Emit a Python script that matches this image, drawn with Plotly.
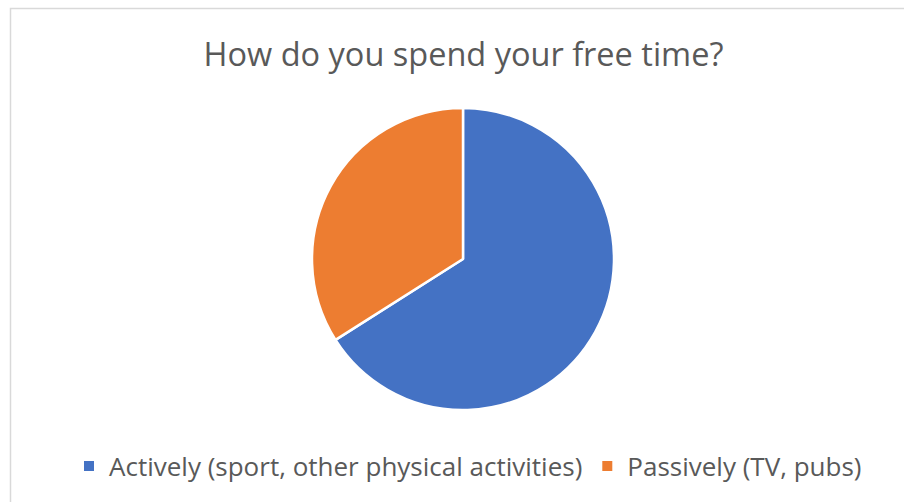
import plotly.graph_objects as go

# Survey answers for "How do you spend your free time?"
categories = ["Actively (sport, other physical activities)", "Passively (TV, pubs)"]
shares = [66, 34]
colors = ["#4472C4", "#ED7D31"]

W, H = 904, 502
TEXT = "#595959"
FONT = "Open Sans"

fig = go.Figure(
    go.Pie(
        labels=categories,
        values=shares,
        sort=False,
        direction="clockwise",
        rotation=0,
        textinfo="none",
        hoverinfo="skip",
        marker=dict(colors=colors, line=dict(color="white", width=2.5)),
        domain=dict(x=[312 / W, 614 / W], y=[1 - 410 / H, 1 - 108 / H]),
    )
)

fig.update_layout(
    width=W,
    height=H,
    margin=dict(l=0, r=0, t=0, b=0),
    paper_bgcolor="white",
    plot_bgcolor="white",
    font=dict(family=FONT, color=TEXT),
    title=dict(
        text="How do you spend your free time?",
        x=463.5 / W,
        xanchor="center",
        y=1 - 55 / H,
        yanchor="middle",
        font=dict(size=32.5, color=TEXT, family=FONT),
    ),
    legend=dict(
        orientation="h",
        x=468 / W,
        xanchor="center",
        y=1 - 466 / H,
        yanchor="middle",
        font=dict(size=26, color=TEXT, family=FONT),
        itemsizing="constant",
        bgcolor="rgba(0,0,0,0)",
    ),
    shapes=[
        dict(
            type="rect",
            xref="paper",
            yref="paper",
            x0=10.5 / W,
            x1=1.01,
            y0=-0.01,
            y1=1 - 8.5 / H,
            line=dict(color="#D9D9D9", width=1.5),
            fillcolor="rgba(0,0,0,0)",
            layer="below",
        )
    ],
)

fig.write_html("out.html")
